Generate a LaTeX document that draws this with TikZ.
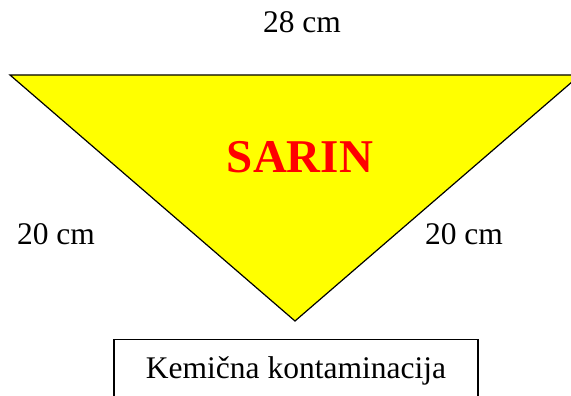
\documentclass[tikz,border=0pt]{standalone}
\usepackage{fontspec}
\setmainfont{Liberation Serif}
\definecolor{signyellow}{RGB}{255,255,0}
\definecolor{signred}{RGB}{255,0,0}
\begin{document}
\begin{tikzpicture}[x=1pt, y=-1pt,
    tri/.style={draw=black, line width=1.2pt, fill=signyellow, line join=miter},
    dimlabel/.style={anchor=base, font=\fontsize{31.5}{36}\selectfont},
    namelabel/.style={anchor=base, text=signred, font=\fontsize{47}{52}\selectfont\bfseries},
    namebox/.style={draw=black, line width=1.2pt, minimum width=364pt, minimum height=63.4pt, anchor=north, font=\fontsize{31.5}{36}\selectfont}]
    \clip (0,0) rectangle (571,396);
    
    % Trikotnik
    \coordinate (tl) at (10,75);
    \coordinate (tr) at (580,75);
    \coordinate (tip) at (295,321);
    \filldraw[tri] (tl) -- (tr) -- (tip) -- cycle;
    
    % Napis
    \node[namelabel] (sarin) at (300,172) {SARIN};
    
    % Mere stranic
    \node[dimlabel] (top) at (302,33) {28 cm};
    \node[dimlabel] (left) at (56,244) {20 cm};
    \node[dimlabel] (right) at (464,244) {20 cm};
    
    % Okvir spodaj
    \node[namebox] (box) at (296,339) {Kemična kontaminacija};
\end{tikzpicture}
\end{document}
